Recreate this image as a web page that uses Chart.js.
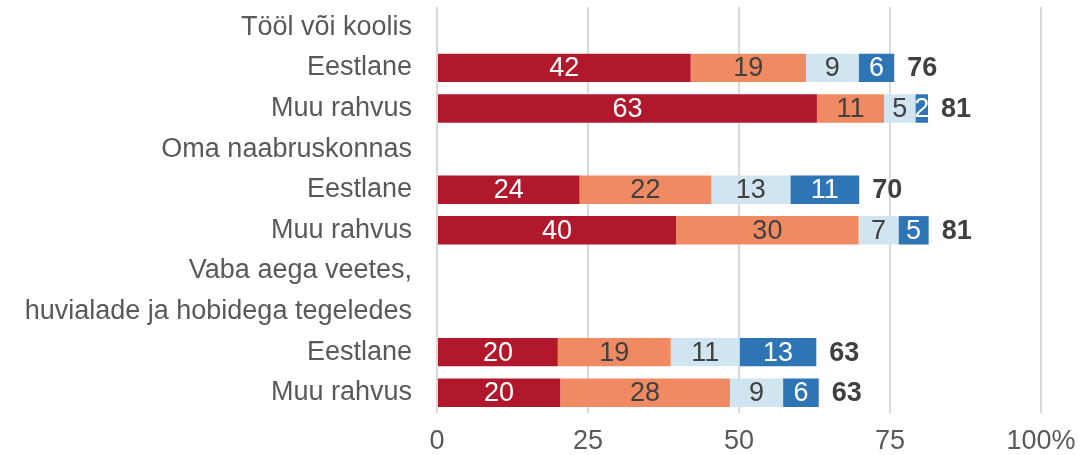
<!DOCTYPE html>
<html>
<head>
<meta charset="utf-8">
<script src="https://cdn.jsdelivr.net/npm/chart.js@4.4.1/dist/chart.umd.min.js"></script>
<style>
  html,body{margin:0;padding:0;background:#fff}
  #wrap{width:1086px;height:455px;position:relative}
</style>
</head>
<body>
<div id="wrap"><canvas id="chart"></canvas></div>
<script>
// rows: header rows have no bars (null)
const rowLabels = ["Tööl või koolis","Eestlane","Muu rahvus","Oma naabruskonnas","Eestlane","Muu rahvus",
  "Vaba aega veetes,","huvialade ja hobidega tegeledes","Eestlane","Muu rahvus"];
const s1 = [null, 42.0, 62.9, null, 23.6, 39.6, null, null, 20.0, 20.4];
const s2 = [null, 19.1, 11.1, null, 21.8, 30.2, null, null, 18.7, 28.1];
const s3 = [null,  8.7,  5.2, null, 13.1,  6.6, null, null, 11.4,  8.8];
const s4 = [null,  5.9,  2.1, null, 11.4,  5.0, null, null, 12.7,  5.9];
const xTicks = [0, 25, 50, 75, 100];

const colors = ["#B2182B","#F08A62","#D1E5F0","#2E75B6"];
const labelColors = ["#ffffff","#404040","#404040","#ffffff"];
const FONT = "'Liberation Sans', Arial, sans-serif";

const barLabels = {
  id:"barLabels",
  afterDatasetsDraw(chart){
    const ctx = chart.ctx;
    ctx.save();
    ctx.textBaseline = "middle";
    chart.data.datasets.forEach((ds,di)=>{
      const meta = chart.getDatasetMeta(di);
      meta.data.forEach((el,i)=>{
        const v = ds.data[i];
        if(v==null) return;
        ctx.font = "27px " + FONT;
        ctx.fillStyle = labelColors[di];
        ctx.textAlign = "center";
        ctx.fillText(Math.round(v), (el.x+el.base)/2, el.y+1);
      });
    });
    // totals after the last segment
    const last = chart.getDatasetMeta(chart.data.datasets.length-1);
    last.data.forEach((el,i)=>{
      if(s1[i]==null) return;
      const tot = s1[i]+s2[i]+s3[i]+s4[i];
      ctx.font = "bold 27px " + FONT;
      ctx.fillStyle = "#404040";
      ctx.textAlign = "left";
      ctx.fillText(Math.round(tot), el.x+13, el.y+1);
    });
    ctx.restore();
  }
};

new Chart(document.getElementById("chart"),{
  type:"bar",
  data:{
    labels:rowLabels,
    datasets:[s1,s2,s3,s4].map((d,i)=>({
      data:d, backgroundColor:colors[i], borderWidth:0,
      barPercentage:0.7, categoryPercentage:1
    }))
  },
  options:{
    indexAxis:"y",
    responsive:true, maintainAspectRatio:false, animation:false,
    layout:{padding:{top:7,right:45,left:0,bottom:0}, autoPadding:false},
    plugins:{legend:{display:false},tooltip:{enabled:false}},
    scales:{
      x:{
        stacked:true, min:0, max:100,
        afterBuildTicks:(s)=>{s.ticks = xTicks.map(v=>({value:v}));},
        afterFit:(s)=>{s.height = 42; s.paddingLeft = 0; s.paddingRight = 0;},
        grid:{color:"#d9d9d9", lineWidth:2, drawTicks:false},
        border:{display:false},
        ticks:{padding:12, color:"#595959", font:{size:27, family:FONT},
          callback:(v)=> v===100 ? "100%" : v}
      },
      y:{
        stacked:true,
        afterFit:(s)=>{s.width = 437; s.paddingTop = 0; s.paddingBottom = 0;},
        grid:{display:false, drawTicks:false},
        border:{display:false},
        ticks:{padding:25, color:"#595959", font:{size:27, family:FONT}, autoSkip:false}
      }
    }
  },
  plugins:[barLabels]
});
</script>
</body>
</html>
